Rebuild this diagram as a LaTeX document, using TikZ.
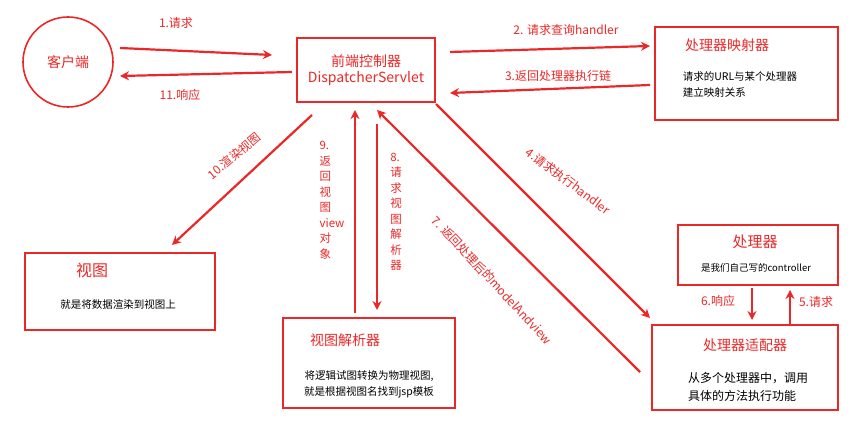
\documentclass[tikz,border=0pt]{standalone}
\usepackage{fontspec}
\setmainfont{Noto Sans CJK SC}
\usetikzlibrary{arrows.meta}
\definecolor{rd}{RGB}{235,40,40}
\tikzset{
 box/.style={draw=rd,line width=1.6pt,inner sep=0},
 arr/.style={draw=rd,line width=2.2pt,-{Stealth[length=9pt,width=9pt]}},
 lbl/.style={text=rd,font=\fontsize{12pt}{14pt}\selectfont},
 ttl/.style={text=rd,font=\fontsize{14pt}{16pt}\selectfont},
 txt/.style={text=black,font=\fontsize{10.5pt}{16pt}\selectfont,align=center},
}
\begin{document}
\begin{tikzpicture}[x=1pt,y=-1pt]
\useasboundingbox[fill=white] (0,0) rectangle (854,443);
\node[draw=rd,line width=1.6pt,circle,minimum size=90pt,ttl] (cli) at (68,62) {客户端};
\draw[box] (297,38) rectangle (435,102);
\node[ttl,align=center] (fc) at (366,70) {前端控制器\\DispatcherServlet};
\draw[box] (655,27) rectangle (838,120);
\node[ttl] (mapt) at (727,45) {处理器映射器};
\node[txt,align=left] (mapx) at (740,85) {请求的URL与某个处理器\\建立映射关系};
\draw[box] (25,253) rectangle (215,330);
\node[ttl,font=\fontsize{16pt}{18pt}\selectfont] (vt) at (92,270) {视图};
\node[txt] (vx) at (118,305) {就是将数据渲染到视图上};
\draw[box] (283,318) rectangle (455,408);
\node[ttl] (vrt) at (345,340) {视图解析器};
\node[txt] (vrx) at (369,384) {将逻辑试图转换为物理视图,\\就是根据视图名找到jsp模板};
\draw[box] (678,225) rectangle (838,285);
\node[ttl,font=\fontsize{15pt}{17pt}\selectfont] (ht) at (755,242) {处理器};
\node[txt,font=\fontsize{9.5pt}{12pt}\selectfont] (hx) at (756,268) {是我们自己写的controller};
\draw[box] (652,325) rectangle (838,410);
\node[ttl] (at) at (745,345) {处理器适配器};
\node[txt,font=\fontsize{12pt}{18pt}\selectfont,align=left] (ax) at (748,387) {从多个处理器中，调用\\具体的方法执行功能};
\coordinate (a1s) at (120,48); \coordinate (a1e) at (272,55);
\coordinate (a11s) at (292,72); \coordinate (a11e) at (120,76);
\coordinate (a2s) at (450,52); \coordinate (a2e) at (650,46);
\coordinate (a3s) at (650,85); \coordinate (a3e) at (450,93);
\coordinate (a4s) at (436,104); \coordinate (a4e) at (650,318);
\coordinate (a7s) at (640,372); \coordinate (a7e) at (377,110);
\coordinate (a10s) at (312,115); \coordinate (a10e) at (172,245);
\coordinate (a9s) at (355,313); \coordinate (a9e) at (355,110);
\coordinate (a8s) at (377,124); \coordinate (a8e) at (377,310);
\coordinate (a6s) at (752,288); \coordinate (a6e) at (752,320);
\coordinate (a5s) at (790,326); \coordinate (a5e) at (790,290);
\foreach \a in {1,11,2,3,4,7,10,9,8,6,5} \draw[arr] (a\a s) -- (a\a e);
\node[lbl] (l1) at (176,23) {1.请求};
\node[lbl] (l11) at (180,95) {11.响应};
\node[lbl] (l2) at (566,30) {2. 请求查询handler};
\node[lbl] (l3) at (558,76) {3.返回处理器执行链};
\node[lbl,rotate=-37] (l4) at (568,181) {4.请求执行handler};
\node[lbl,rotate=-47] (l7) at (492,280) {7. 返回处理后的modelAndview};
\node[lbl,rotate=40] (l10) at (234,156) {10.渲染视图};
\node[lbl,align=left,font=\fontsize{11.5pt}{15.5pt}\selectfont] (l9) at (332,200) {9.\\返\\回\\视\\图\\view\\对\\象};
\node[lbl,align=left,font=\fontsize{11.5pt}{15.5pt}\selectfont] (l8) at (396,212) {8.\\请\\求\\视\\图\\解\\析\\器};
\node[lbl] (l6) at (718,301) {6.响应};
\node[lbl] (l5) at (816,302) {5.请求};
\end{tikzpicture}
\end{document}
